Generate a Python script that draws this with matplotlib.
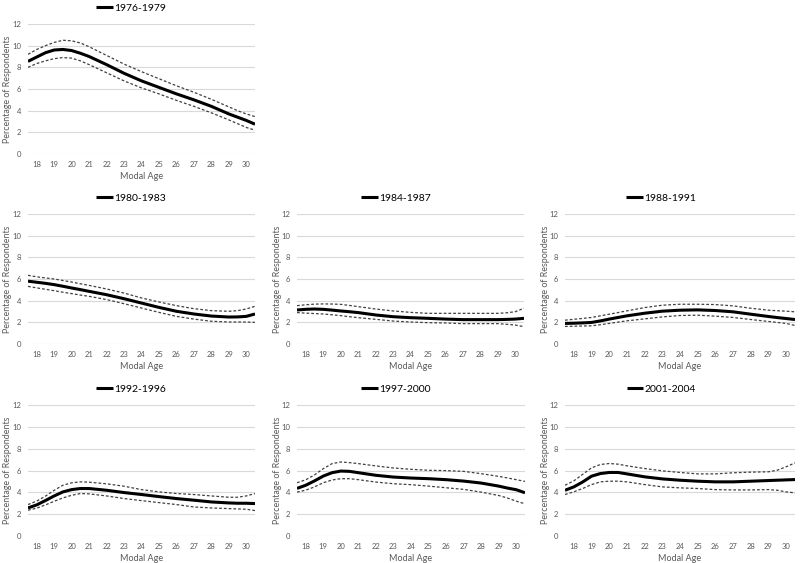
import matplotlib
matplotlib.use("Agg")
import matplotlib.pyplot as plt

plt.rcParams['font.family'] = ['Lato', 'DejaVu Sans']

ages = [17.5, 18, 18.5, 19, 19.5, 20, 20.5, 21, 22, 23, 24, 25, 26, 27, 28, 29, 29.5, 30, 30.5]
age_ticks = list(range(18, 31))
y_ticks = [0, 2, 4, 6, 8, 10, 12]

periods = ["1976-1979", "1980-1983", "1984-1987", "1988-1991", "1992-1996", "1997-2000", "2001-2004"]

est_1976 = [8.55, 8.95, 9.35, 9.6, 9.65, 9.55, 9.3, 9.0, 8.25, 7.45, 6.75, 6.15, 5.55, 5.0, 4.4, 3.7, 3.4, 3.1, 2.75]
up_1976 = [9.2, 9.65, 10.0, 10.3, 10.5, 10.45, 10.25, 9.9, 9.1, 8.3, 7.6, 6.95, 6.3, 5.7, 5.05, 4.35, 4.0, 3.7, 3.45]
lo_1976 = [8.0, 8.35, 8.6, 8.8, 8.9, 8.85, 8.6, 8.25, 7.5, 6.75, 6.1, 5.55, 4.95, 4.4, 3.8, 3.15, 2.8, 2.45, 2.2]

est_1980 = [5.8, 5.7, 5.6, 5.48, 5.33, 5.17, 5.02, 4.86, 4.55, 4.18, 3.78, 3.38, 3.02, 2.77, 2.58, 2.49, 2.5, 2.55, 2.77]
up_1980 = [6.34, 6.2, 6.1, 6.0, 5.86, 5.72, 5.56, 5.41, 5.08, 4.7, 4.25, 3.88, 3.54, 3.26, 3.08, 3.02, 3.08, 3.23, 3.48]
lo_1980 = [5.32, 5.18, 5.05, 4.92, 4.78, 4.65, 4.52, 4.4, 4.1, 3.72, 3.32, 2.92, 2.55, 2.3, 2.1, 2.03, 2.03, 2.03, 2.0]

est_1984 = [3.14, 3.2, 3.23, 3.2, 3.13, 3.05, 2.98, 2.9, 2.68, 2.52, 2.43, 2.37, 2.3, 2.25, 2.25, 2.25, 2.27, 2.3, 2.37]
up_1984 = [3.54, 3.62, 3.68, 3.7, 3.69, 3.66, 3.56, 3.45, 3.23, 3.05, 2.92, 2.83, 2.83, 2.83, 2.83, 2.83, 2.88, 2.98, 3.3]
lo_1984 = [2.9, 2.85, 2.81, 2.77, 2.7, 2.62, 2.52, 2.43, 2.28, 2.12, 2.03, 1.97, 1.94, 1.88, 1.88, 1.88, 1.82, 1.75, 1.6]

est_1988 = [1.9, 1.92, 1.95, 1.99, 2.13, 2.3, 2.45, 2.6, 2.84, 3.03, 3.12, 3.15, 3.09, 2.97, 2.75, 2.54, 2.44, 2.35, 2.26]
up_1988 = [2.2, 2.28, 2.36, 2.45, 2.6, 2.75, 2.9, 3.06, 3.36, 3.58, 3.67, 3.67, 3.64, 3.52, 3.3, 3.12, 3.07, 3.03, 2.97]
lo_1988 = [1.62, 1.64, 1.66, 1.68, 1.78, 1.9, 2.02, 2.14, 2.32, 2.5, 2.63, 2.66, 2.57, 2.45, 2.26, 2.08, 1.99, 1.9, 1.71]

est_1992 = [2.57, 2.85, 3.25, 3.67, 4.04, 4.25, 4.35, 4.35, 4.19, 3.98, 3.8, 3.61, 3.43, 3.28, 3.12, 3.03, 3.0, 3.0, 2.97]
up_1992 = [2.88, 3.2, 3.65, 4.19, 4.65, 4.87, 4.96, 4.93, 4.78, 4.56, 4.25, 4.04, 3.89, 3.8, 3.67, 3.55, 3.55, 3.67, 3.89]
lo_1992 = [2.36, 2.55, 2.85, 3.18, 3.49, 3.73, 3.89, 3.86, 3.67, 3.43, 3.24, 3.06, 2.88, 2.66, 2.57, 2.51, 2.48, 2.45, 2.33]

est_1997 = [4.36, 4.65, 5.05, 5.49, 5.8, 5.95, 5.92, 5.8, 5.56, 5.4, 5.31, 5.25, 5.16, 5.03, 4.85, 4.57, 4.39, 4.24, 3.96]
up_1997 = [4.88, 5.15, 5.6, 6.17, 6.63, 6.78, 6.72, 6.63, 6.42, 6.23, 6.11, 6.02, 5.99, 5.92, 5.71, 5.46, 5.32, 5.16, 5.0]
lo_1997 = [4.02, 4.2, 4.5, 4.88, 5.13, 5.25, 5.25, 5.16, 4.94, 4.79, 4.7, 4.57, 4.42, 4.27, 4.02, 3.71, 3.48, 3.19, 2.95]

est_2001 = [4.19, 4.5, 4.95, 5.48, 5.72, 5.82, 5.82, 5.69, 5.42, 5.23, 5.11, 5.02, 4.96, 4.96, 5.02, 5.08, 5.11, 5.14, 5.17]
up_2001 = [4.65, 5.05, 5.65, 6.24, 6.55, 6.64, 6.58, 6.43, 6.18, 5.97, 5.82, 5.69, 5.69, 5.79, 5.85, 5.88, 6.03, 6.34, 6.7]
lo_2001 = [3.8, 4.05, 4.35, 4.71, 4.96, 5.02, 5.02, 4.96, 4.71, 4.5, 4.41, 4.35, 4.25, 4.22, 4.22, 4.25, 4.19, 4.04, 3.95]

series = [
    (est_1976, up_1976, lo_1976),
    (est_1980, up_1980, lo_1980),
    (est_1984, up_1984, lo_1984),
    (est_1988, up_1988, lo_1988),
    (est_1992, up_1992, lo_1992),
    (est_1997, up_1997, lo_1997),
    (est_2001, up_2001, lo_2001),
]

W, H = 800, 563
fig = plt.figure(figsize=(W / 100, H / 100), dpi=100)

# pixel boxes (left, top, right, bottom) for each panel's plot area
boxes = [
    (28, 24, 255, 154),
    (28, 214, 255, 344),
    (297, 214, 524, 344),
    (565, 214, 795, 344),
    (28, 405, 255, 536),
    (297, 405, 525, 536),
    (565, 405, 795, 536),
]
# chart-area left edge (pixels) for each panel, used to centre the legend
chart_left = [0, 0, 265, 530, 0, 265, 530]
# y-label centre x (pixels)
ylabel_x = [8, 8, 277, 545, 8, 277, 545]

grey_txt = '#595959'
for i, (l, t, r, b) in enumerate(boxes):
    ax = fig.add_axes([l / W, 1 - b / H, (r - l) / W, (b - t) / H])
    est, up, lo = series[i]
    ax.plot(ages, up, color='#404040', lw=0.9, ls=(0, (2.2, 1.6)))
    ax.plot(ages, lo, color='#404040', lw=0.9, ls=(0, (2.2, 1.6)))
    ax.plot(ages, est, color='black', lw=2.2, label=periods[i], solid_capstyle='butt')
    ax.set_xlim(17.5, 30.5)
    ax.set_ylim(0, 12)
    ax.set_yticks(y_ticks)
    ax.set_xticks(age_ticks)
    ax.set_xticklabels([str(a) for a in age_ticks])
    ax.yaxis.grid(True, color='#d9d9d9', lw=0.8)
    ax.set_axisbelow(True)
    for s in ax.spines.values():
        s.set_visible(False)
    ax.tick_params(axis='both', length=0, labelsize=5.5, colors=grey_txt)
    ax.tick_params(axis='y', pad=5)
    ax.tick_params(axis='x', pad=5)
    ax.set_xlabel('Modal Age', fontsize=6.5, color=grey_txt, labelpad=3)
    ax.set_ylabel('Percentage of Respondents', fontsize=6.4, color=grey_txt, va='center')
    ax.yaxis.set_label_coords((ylabel_x[i] - l) / (r - l), 0.5)
    # legend centred on chart area
    cx_px = chart_left[i] + 131
    cx = (cx_px - l) / (r - l)
    cy = 1 + 16 / (b - t)
    ax.legend(loc='center', bbox_to_anchor=(cx, cy), frameon=False, fontsize=7.5,
              handlelength=1.6, handletextpad=0.1, borderaxespad=0, borderpad=0)

fig.savefig('out.png', dpi=100)
